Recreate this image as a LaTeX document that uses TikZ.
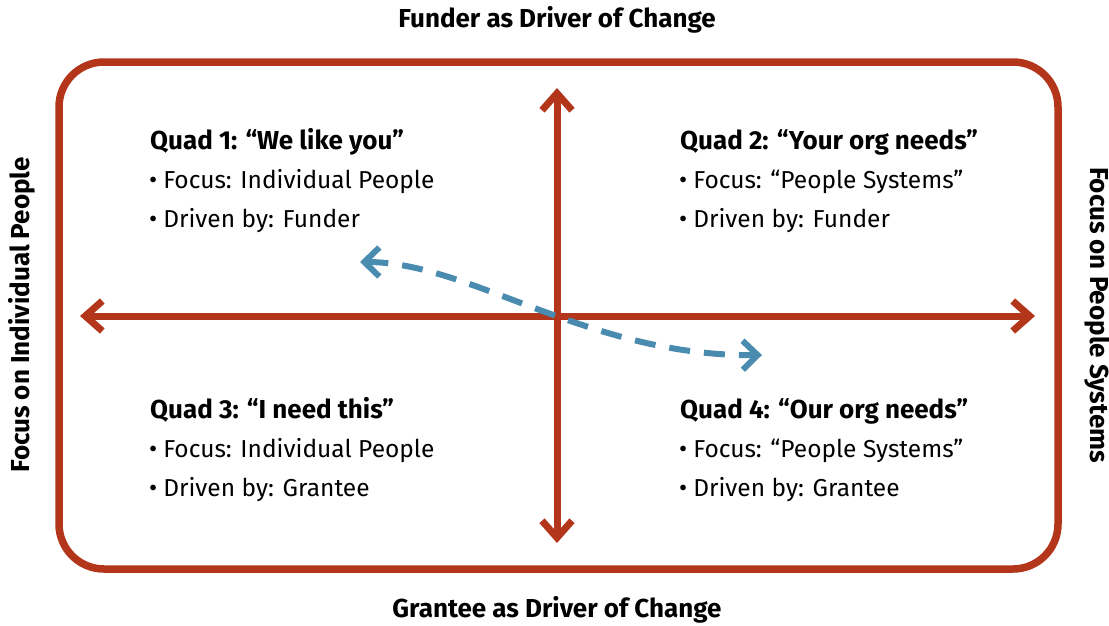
\documentclass[tikz,border=0pt]{standalone}
\usepackage{fontspec}
\setmainfont{Fira Sans}
\usetikzlibrary{arrows.meta}
\definecolor{frame}{HTML}{B3361B}
\definecolor{flow}{HTML}{4A8BB0}
\newcommand\bul{\kern-1pt\raisebox{-0.02em}{\fontsize{25}{28}\selectfont •}\hspace{6pt}}
\begin{document}
\begin{tikzpicture}[x=1pt,y=-1pt,
  axisline/.style={draw=frame,line width=7pt,
    {Straight Barb[length=17pt,width=30pt]}-{Straight Barb[length=17pt,width=30pt]}},
  flowline/.style={draw=flow,line width=6pt,dash pattern=on 21pt off 14pt,
    {Straight Barb[length=15pt,width=29pt]}-{Straight Barb[length=15pt,width=29pt]}},
  quadtitle/.style={anchor=base west,inner sep=0pt,font=\fontsize{26}{30}\selectfont\bfseries},
  quadtext/.style={anchor=base west,inner sep=0pt,font=\fontsize{24.5}{28}\selectfont},
  sidelabel/.style={inner sep=0pt,font=\fontsize{26}{30}\selectfont\bfseries}]
\useasboundingbox (0,0) rectangle (1109,625);
% frame
\draw[draw=frame,line width=7.5pt,rounded corners=45pt] (59,62) rectangle (1058,569);
% axis ends
\coordinate (L) at (80,316);
\coordinate (R) at (1035,316);
\coordinate (T) at (557,88);
\coordinate (B) at (557,543);
\draw[axisline] (L) -- (R);
\draw[axisline] (T) -- (B);
% flow arrow
\coordinate (F1) at (360,262);
\coordinate (F2) at (762,355);
\draw[flowline] (F1) .. controls (470,262) and (590,357) .. (F2);
% labels
\node[sidelabel] (top) at (557,20) {Funder as Driver of Change};
\node[sidelabel] (bot) at (557,610) {Grantee as Driver of Change};
\node[sidelabel,rotate=90] (lft) at (22,315) {Focus on Individual People};
\node[sidelabel,rotate=-90] (rgt) at (1097,315) {Focus on People Systems};
% quadrants
\node[quadtitle] (q1) at (150,149) {Quad 1: “We like you”};
\node[quadtext] (q1a) at (150,188) {\bul Focus: Individual People};
\node[quadtext] (q1b) at (150,227) {\bul Driven by: Funder};
\node[quadtitle] (q2) at (680,149) {Quad 2: “Your org needs”};
\node[quadtext] (q2a) at (680,188) {\bul Focus: “People Systems”};
\node[quadtext] (q2b) at (680,227) {\bul Driven by: Funder};
\node[quadtitle] (q3) at (150,418) {Quad 3: “I need this”};
\node[quadtext] (q3a) at (150,457) {\bul Focus: Individual People};
\node[quadtext] (q3b) at (150,496) {\bul Driven by: Grantee};
\node[quadtitle] (q4) at (680,418) {Quad 4: “Our org needs”};
\node[quadtext] (q4a) at (680,457) {\bul Focus: “People Systems”};
\node[quadtext] (q4b) at (680,496) {\bul Driven by: Grantee};
\end{tikzpicture}
\end{document}
